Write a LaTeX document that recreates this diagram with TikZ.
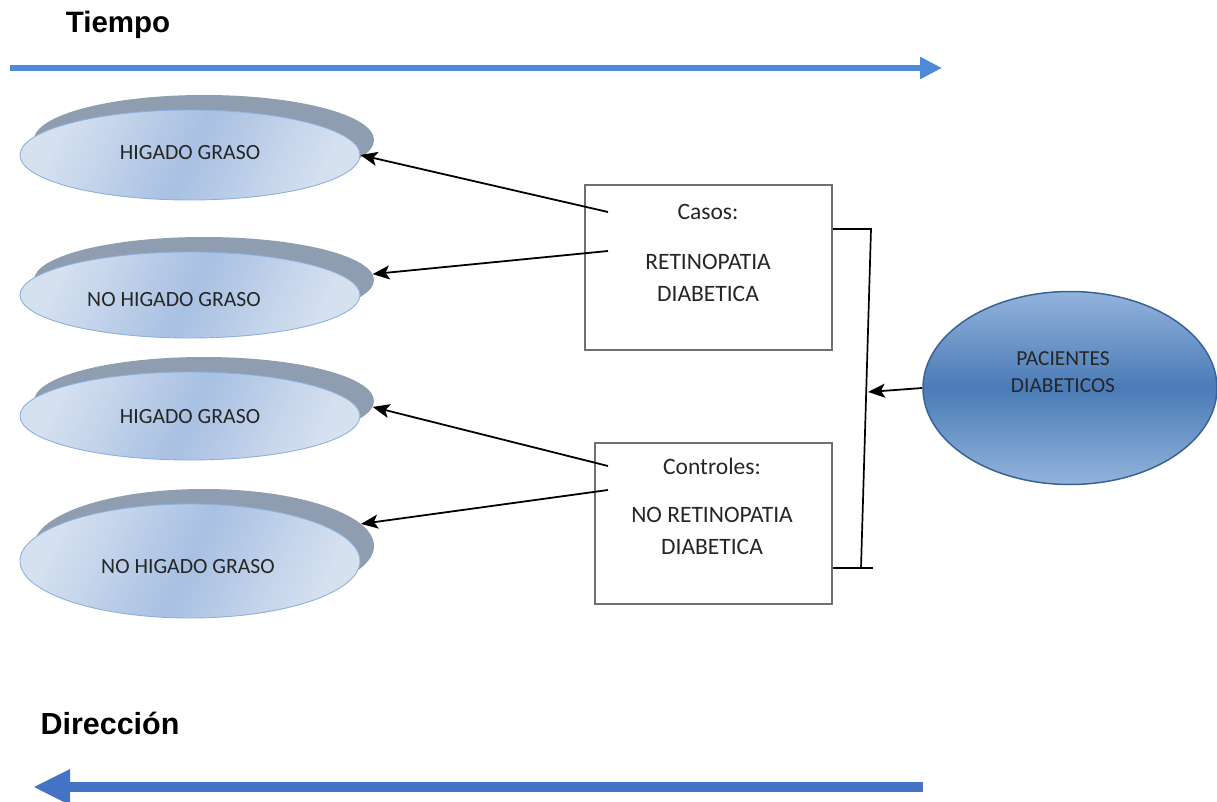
\documentclass[tikz,border=0pt]{standalone}
\usepackage{fontspec}
\setmainfont{Carlito}
\newfontfamily\titulo{Liberation Sans}
\usepackage{tikz}
\usetikzlibrary{positioning,arrows.meta,shapes.geometric,calc}
\definecolor{azul}{HTML}{4F8AD8}
\definecolor{azulosc}{HTML}{4472C4}
\definecolor{sombragris}{HTML}{8E9DB0}
\definecolor{elclaro}{HTML}{D6E1F0}
\definecolor{elmedio}{HTML}{A8C0E2}
\definecolor{elborde}{HTML}{8DB1DD}
\definecolor{pacclaro}{HTML}{93B3DB}
\definecolor{pacmedio}{HTML}{4A7BB7}
\definecolor{pacborde}{HTML}{3A6395}
\definecolor{cajaborde}{HTML}{707070}
\definecolor{tinta}{HTML}{262626}
\tikzset{
  sombra/.style   = {ellipse, fill=sombragris, minimum width=340pt, inner sep=0pt},
  elipse/.style   = {ellipse, draw=elborde, line width=0.9pt, minimum width=340pt, inner sep=0pt,
                     left color=elclaro, right color=elclaro, middle color=elmedio, shading angle=65},
  etiqueta/.style = {font=\fontsize{21.7}{26}\selectfont, text=tinta, inner sep=0pt},
  caja/.style     = {draw=cajaborde, line width=1.6pt, fill=white, inner sep=0pt},
  cajatxt/.style  = {font=\fontsize{23.5}{32}\selectfont, text=tinta, align=center, inner sep=0pt},
  flecha/.style   = {-{Stealth[length=17pt,width=14pt,inset=4pt]}, line width=1.8pt},
  barra/.style    = {line width=1.7pt},
  titulos/.style  = {font=\titulo\bfseries\fontsize{29.5}{34}\selectfont, inner sep=0pt},
}
\newcommand{\hgelipse}[4]{\node[sombra, minimum height=#4] (s#1) at (#2+14,#3-15) {};
  \node[elipse, minimum height=#4] (#1) at (#2,#3) {};}

\begin{document}
\begin{tikzpicture}[x=1pt,y=-1pt]
\useasboundingbox (0,0) rectangle (1217,802);

% ------------------------------------------------------------------ tiempo / direccion
\node[titulos] (tiempo) at (118,25) {Tiempo};
\node[titulos, font=\titulo\bfseries\fontsize{30.5}{34}\selectfont] (direccion) at (110,723) {Dirección};
\coordinate (t0) at (10,68);
\coordinate (t1) at (942,68);
\draw[-{Triangle[length=22pt,width=21pt]}, line width=6pt, draw=azul] (t0) -- (t1);
\coordinate (d0) at (923,787);
\coordinate (d1) at (33,787);
\draw[-{Triangle[length=37pt,width=33pt]}, line width=10pt, draw=azulosc] (d0) -- (d1);

% ------------------------------------------------------------------ higado graso
\hgelipse{hg1}{190}{155}{90}
\hgelipse{nhg1}{190}{295}{86}
\hgelipse{hg2}{190}{416}{88}
\hgelipse{nhg2}{190}{561}{114}
\node[etiqueta] (thg1)  at (190,153) {HIGADO GRASO};
\node[etiqueta] (tnhg1) at (174,300) {NO HIGADO GRASO};
\node[etiqueta] (thg2)  at (190,417) {HIGADO GRASO};
\node[etiqueta] (tnhg2) at (188,567) {NO HIGADO GRASO};

% ------------------------------------------------------------------ casos / controles
\node[caja, minimum width=247pt, minimum height=165pt] (casos) at (708.5,267.5) {};
\node[cajatxt] (casostit) at (708,212) {Casos:};
\node[cajatxt] (casostxt) at (708,278) {RETINOPATIA\\DIABETICA};
\node[caja, minimum width=237pt, minimum height=161pt] (controles) at (713.5,523.5) {};
\node[cajatxt] (contrtit) at (712,466) {Controles:};
\node[cajatxt] (contrtxt) at (712,531) {NO RETINOPATIA\\DIABETICA};

\coordinate (c1) at (608,212);
\coordinate (c2) at (608,251);
\coordinate (c3) at (608,466);
\coordinate (c4) at (608,490);
\draw[flecha] (c1) -- (hg1.east);
\draw[flecha] (c2) -- (snhg1.2);
\draw[flecha] (c3) -- (shg2.-2);
\draw[flecha] (c4) -- (snhg2.8);

% ------------------------------------------------------------------ pacientes
\node[ellipse, minimum width=294pt, minimum height=193pt, inner sep=0pt, draw=pacborde, line width=1.5pt,
      top color=pacclaro, bottom color=pacclaro, middle color=pacmedio] (pac) at (1070,388) {};
\node[etiqueta, align=center, font=\fontsize{21.4}{27}\selectfont] (pactxt) at (1063,372) {PACIENTES\\DIABETICOS};

\coordinate (b1) at (871,229);
\coordinate (b2) at (861,568);
\coordinate (b3) at (873,568);
\coordinate (union) at (868,392);
\draw[barra] (casos.east |- b1) -- (b1) -- (b2);
\draw[barra] (controles.east |- b3) -- (b3);
\draw[flecha] (pac.west) -- (union);

\end{tikzpicture}
\end{document}
